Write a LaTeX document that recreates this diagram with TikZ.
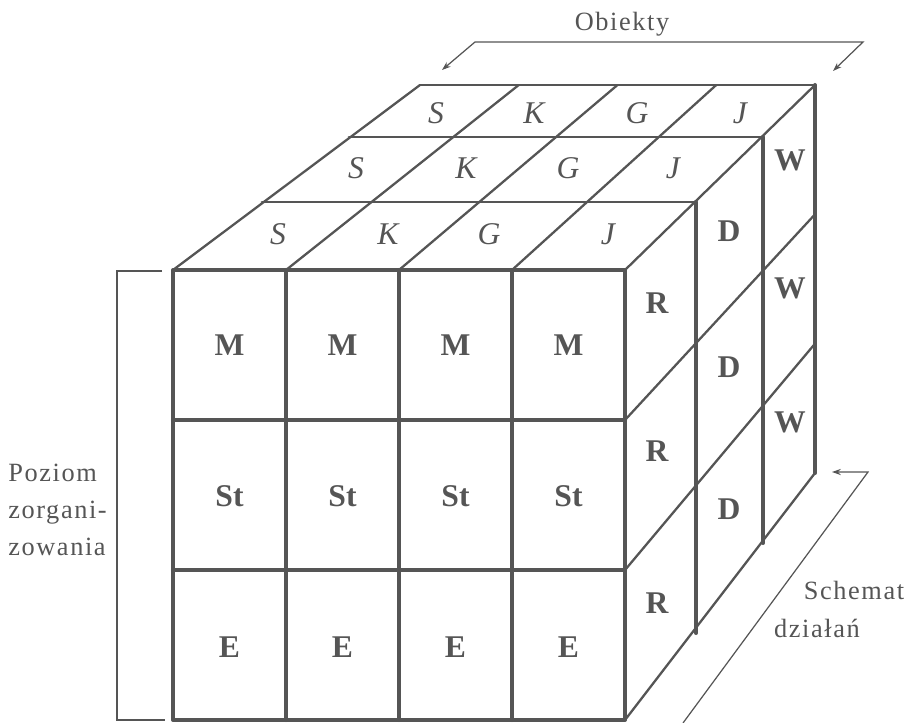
\documentclass[tikz,border=0pt]{standalone}
\usepackage{fontspec}
\setmainfont{Liberation Serif}
\newfontfamily\notefont{Liberation Serif}[LetterSpace=6]
\usepackage{tikz}
\usetikzlibrary{calc, arrows.meta}
\definecolor{InkGray}{RGB}{85,85,85}
\tikzset{
    gridline/.style={
        line width=2.3pt, InkGray, line cap=round, line join=round
    },
    rimline/.style={
        line width=1.7pt, InkGray, line cap=round
    },
    slantline/.style={
        line width=1.3pt, InkGray, line cap=round
    },
    guideline/.style={
        line width=0.7pt, InkGray, >={Stealth[length=5pt, width=3.5pt]}
    },
    celllabel/.style={
        font=\fontsize{18}{21}\selectfont\bfseries, text=InkGray, inner sep=0pt
    },
    toplabel/.style={
        font=\fontsize{18}{21}\selectfont\itshape, text=InkGray, inner sep=0pt
    },
    notelabel/.style={
        font=\notefont\fontsize{15}{21}\selectfont, text=InkGray, inner sep=0pt, align=left
    }
}

\begin{document}
\begin{tikzpicture}[x=0.02cm, y=-0.02cm]
    \useasboundingbox (0,0) rectangle (910,723);

    % frames of the cube, front to back
    \foreach \k/\l/\r/\t/\b in {0/173/625/270/720, 1/262/696/202/633, 2/349/763/137/543, 3/420/815/85/473}{
        \coordinate (tl\k) at (\l,\t);
        \coordinate (tr\k) at (\r,\t);
        \coordinate (br\k) at (\r,\b);
        \coordinate (bl\k) at (\l,\b);
    }

    % front face
    \draw[gridline] (tl0) rectangle (br0);
    \foreach \i in {1,2,3}
        \draw[gridline] ($(tl0)!\i/4!(tr0)$) -- ($(bl0)!\i/4!(br0)$);
    \foreach \j in {1,2}
        \draw[gridline] ($(tl0)!\j/3!(bl0)$) -- ($(tr0)!\j/3!(br0)$);

    % top face
    \foreach \k in {1,2,3}
        \draw[rimline] (tl\k) -- (tr\k);
    \foreach \i in {0,...,4}
        \draw[slantline] ($(tl0)!\i/4!(tr0)$) -- ($(tl3)!\i/4!(tr3)$);

    % right face
    \foreach \k in {1,2,3}
        \draw[gridline] (tr\k) -- (br\k);
    \foreach \j in {1,2,3}
        \draw[slantline] ($(tr0)!\j/3!(br0)$) -- ($(tr3)!\j/3!(br3)$);

    % labels
    \foreach \lbl/\y [count=\r] in {M/345, St/496, E/647}
        \foreach \c in {1,...,4}
            \node[celllabel] (front-\r-\c) at ({173+(\c-0.5)*113}, \y) {\lbl};

    \foreach \lbl/\x in {S/278, K/388, G/489, J/608}
        \node[toplabel] (top1-\lbl) at (\x,234) {\lbl};
    \foreach \lbl/\x in {S/356, K/466, G/568, J/673}
        \node[toplabel] (top2-\lbl) at (\x,168) {\lbl};
    \foreach \lbl/\x in {S/436, K/534, G/637, J/740}
        \node[toplabel] (top3-\lbl) at (\x,113) {\lbl};

    \foreach \y [count=\n] in {303, 451, 603}
        \node[celllabel] (side-R\n) at (657,\y) {R};
    \foreach \y [count=\n] in {231, 367, 509}
        \node[celllabel] (side-D\n) at (729,\y) {D};
    \foreach \y [count=\n] in {160, 288, 422}
        \node[celllabel] (side-W\n) at (790,\y) {W};

    % Obiekty
    \node[notelabel] (obiekty) at (622,24) {Obiekty};
    \coordinate (obj-l) at (475,42);
    \coordinate (obj-r) at (863,42);
    \draw[guideline, <->] (442,70) -- (obj-l) -- (obj-r) -- (833,71);

    % Schemat dzialan
    \node[notelabel] (schemat) at (854,590) {Schemat};
    \node[notelabel] (dzialan) at (817,628) {działań};
    \coordinate (sch-top) at (868,472);
    \draw[guideline, <-] (832,472) -- (sch-top) -- (683,723);

    % Poziom zorganizowania
    \node[notelabel, anchor=west] (poziom) at (8,510) {Poziom\\zorgani-\\zowania};
    \draw[guideline] (162,271) -- (117,271) -- (117,720) -- (165,720);
\end{tikzpicture}
\end{document}
